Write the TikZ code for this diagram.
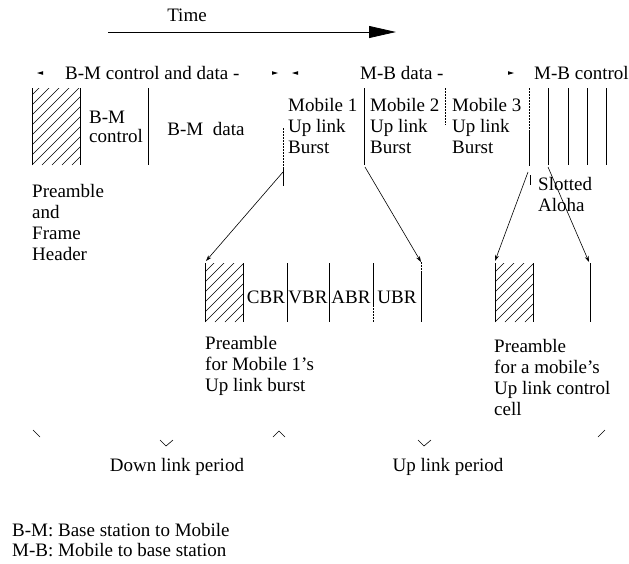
\documentclass[tikz,border=0pt]{standalone}
\usepackage{fontspec}
\setmainfont{Liberation Serif}
\usetikzlibrary{arrows.meta}

\tikzset{
  txt/.style={inner sep=0pt, font=\fontsize{19}{21}\selectfont},
  lbl/.style={txt, anchor=west, align=left},
  cellline/.style={line width=0.8pt},
  dotline/.style={line width=0.8pt, dash pattern=on 1.5pt off 1.5pt},
  hatch/.style={line width=0.45pt},
  conn/.style={line width=0.6pt, -{Stealth[length=6pt,width=4pt]}},
  tick/.style={line width=0.6pt},
}

% hatched preamble cell: left and right edges plus north-east hatching
\newcommand{\hatchbox}[4]{%
  \begin{scope}
    \clip (#1,#2) rectangle (#3,#4);
    \foreach \k in {-90,-80,...,60} {\draw[hatch] (#1+\k,#4) -- ++(90,-90);}
  \end{scope}
  \draw[cellline] (#1,#2) -- (#1,#4) (#3,#2) -- (#3,#4);}

% small arrow tip of a dimension line
\newcommand{\tipleft}[2]{\fill (#1,#2) -- ++(6,-1.8) -- ++(0,3.6) -- cycle;}
\newcommand{\tipright}[2]{\fill (#1,#2) -- ++(-6,-1.8) -- ++(0,3.6) -- cycle;}

\begin{document}
\begin{tikzpicture}[x=1pt, y=-1pt]
\useasboundingbox (0,0) rectangle (629,563);

% time axis
\node[txt] (time) at (187,15) {Time};
\coordinate (t0) at (108,32);
\coordinate (t1) at (396,32);
\draw[line width=0.8pt, -{Triangle[length=27pt,width=12pt]}] (t0) -- (t1);

% dimension labels over the frame
\tipleft{37}{73}
\node[lbl] (bmcd) at (65,73) {B-M control and data -};
\tipright{278}{73}
\tipleft{292}{73}
\node[lbl] (mbd) at (360,73) {M-B data -};
\tipright{514}{73}
\node[lbl] (mbc) at (534,73) {M-B control};

% frame: down link part
\hatchbox{32}{88}{80}{165}
\node[lbl] (bmctlA) at (89,117) {B-M};
\node[lbl] (bmctlB) at (89,136) {control};
\draw[cellline] (148,88) -- (148,165);
\node[txt] (bmdata) at (206,129) {B-M\enspace data};

% frame: up link bursts
\draw[dotline] (283,128) -- (283,167);
\draw[cellline] (283,167) -- (283,186);
\node[lbl] (mob1) at (288,126) {Mobile 1\\Up link\\Burst};
\draw[cellline] (364,88) -- (364,165);
\node[lbl] (mob2) at (370,126) {Mobile 2\\Up link\\Burst};
\draw[dotline] (445,88) -- (445,125);
\node[lbl] (mob3) at (452,126) {Mobile 3\\Up link\\Burst};
\draw[dotline] (529,88) -- (529,132);
\draw[cellline] (529,132) -- (529,166);
\draw[cellline] (530,175) -- (530,185);

% slotted aloha cells
\foreach \x in {548,568,587,606} {\draw[cellline] (\x,88) -- (\x,165);}
\node[lbl] (aloha) at (538,194) {Slotted\\Aloha};

\node[lbl] (pfh) at (32,222) {Preamble\\and\\Frame\\Header};

% expanded up link burst of mobile 1
\hatchbox{205}{263}{243}{322}
\node[txt] (cbr) at (266,297) {CBR};
\draw[cellline] (287,263) -- (287,322);
\node[txt] (vbr) at (308,297) {VBR};
\draw[cellline] (329,263) -- (329,322);
\node[txt] (abr) at (351,297) {ABR};
\draw[cellline] (373,263) -- (373,305);
\draw[dotline] (373,305) -- (373,322);
\node[txt] (ubr) at (397,297) {UBR};
\draw[dotline] (421,262) -- (421,272);
\draw[cellline] (421,272) -- (421,322);
\node[lbl] (pm1) at (205,366) {Preamble\\for Mobile 1's\\Up link burst};

% expanded up link control cell
\hatchbox{495}{263}{533}{322}
\draw[cellline] (590,263) -- (590,322);
\node[lbl] (pcc) at (494,377) {Preamble\\for a mobile's\\Up link control\\cell};

% zoom connectors
\coordinate (m1a) at (283,172);
\coordinate (m1b) at (206,261);
\coordinate (m2a) at (365,167);
\coordinate (m2b) at (421,262);
\coordinate (c1a) at (528,172);
\coordinate (c1b) at (495,261);
\coordinate (c2a) at (548,167);
\coordinate (c2b) at (589,262);
\draw[conn] (m1a) -- (m1b);
\draw[conn] (m2a) -- (m2b);
\draw[conn] (c1a) -- (c1b);
\draw[conn] (c2a) -- (c2b);

% period braces
\draw[tick] (33,430) -- (40,437);
\draw[tick] (160,440) -- (166,446) -- (173,440);
\draw[tick] (273,437) -- (279,431) -- (285,437);
\draw[tick] (418,440) -- (424,446) -- (431,440);
\draw[tick] (598,437) -- (605,430);
\node[txt] (dlp) at (177,467) {Down link period};
\node[txt] (ulp) at (448,467) {Up link period};

% legend
\node[lbl] (leg1) at (12,530) {B-M: Base station to Mobile};
\node[lbl] (leg2) at (12,550) {M-B: Mobile to base station};
\end{tikzpicture}
\end{document}
